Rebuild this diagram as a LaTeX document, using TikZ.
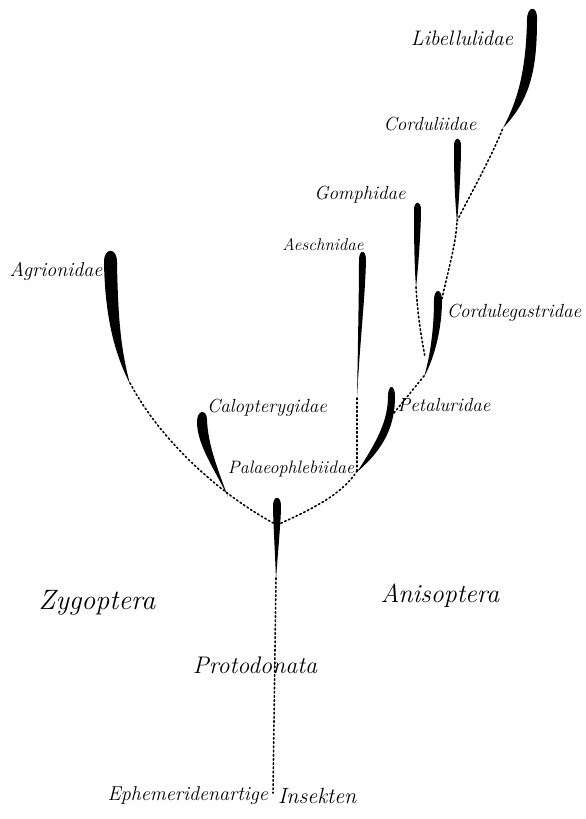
\documentclass[tikz,border=0pt]{standalone}
\begin{document}
\begin{tikzpicture}[x=1pt,y=-1pt,
  ink/.style={fill=black},
  dots/.style={draw=black,line width=1.6pt,line cap=round,dash pattern=on 1.6pt off 2.6pt},
  lab/.style={font=\itshape\fontsize{19}{19}\selectfont,inner sep=0pt},
  biglab/.style={font=\itshape\fontsize{26}{26}\selectfont,inner sep=0pt}]
\fill[white] (0,0) rectangle (586,819);
\useasboundingbox (0,0) rectangle (586,819);

% spindles (taxa)
\fill[ink] (130,384) .. controls (118,360) and (105,325) .. (104,262) .. controls (104,247) and (117,247) .. (117,262) .. controls (118,320) and (121,350) .. (130,384) -- cycle; % Agrionidae
\fill[ink] (503,128) .. controls (518,100) and (526,70) .. (527,20) .. controls (527,5) and (538,5) .. (537,20) .. controls (537,70) and (530,100) .. (503,128) -- cycle; % Libellulidae
\fill[ink] (457,222) .. controls (454,190) and (454,160) .. (454,146) .. controls (454,136) and (461,136) .. (461,146) .. controls (461,160) and (460,190) .. (457,222) -- cycle; % Corduliidae
\fill[ink] (416,288) .. controls (414,260) and (414,225) .. (414,210) .. controls (414,200) and (421,200) .. (421,210) .. controls (421,225) and (419,260) .. (416,288) -- cycle; % Gomphidae
\fill[ink] (357,398) .. controls (358,340) and (359,290) .. (359,260) .. controls (359,249) and (366,249) .. (366,260) .. controls (365,300) and (360,340) .. (357,398) -- cycle; % Aeschnidae
\fill[ink] (424,377) .. controls (432,350) and (434,320) .. (434,300) .. controls (434,288) and (442,288) .. (442,300) .. controls (442,325) and (436,355) .. (424,377) -- cycle; % Cordulegastridae
\fill[ink] (357,472) .. controls (378,440) and (388,420) .. (388,396) .. controls (388,384) and (395,384) .. (395,396) .. controls (395,425) and (385,448) .. (357,472) -- cycle; % Petaluridae
\fill[ink] (228,497) .. controls (215,470) and (197,445) .. (197,422) .. controls (197,409) and (207,409) .. (207,420) .. controls (208,445) and (218,470) .. (228,497) -- cycle; % Calopterygidae
\fill[ink] (276,580) .. controls (275,550) and (273,520) .. (273,506) .. controls (273,495) and (281,495) .. (281,506) .. controls (281,520) and (278,550) .. (276,580) -- cycle; % root

% named points
\coordinate (root) at (277,525);
\coordinate (agb) at (130,383);
\coordinate (aeb) at (357,397);
\coordinate (pj) at (357,471);
\coordinate (pt) at (394,413);
\coordinate (cgb) at (424,376);
\coordinate (cgt) at (441,303);
\coordinate (gob) at (416,287);
\coordinate (gj) at (425,357);
\coordinate (cob) at (457,221);
\coordinate (lib) at (503,128);
\coordinate (rb) at (276,578);
\coordinate (base) at (273,793);

% dotted connectors
\draw[dots] (agb) .. controls (160,440) and (220,495) .. (root);
\draw[dots] (root) .. controls (310,510) and (342,495) .. (pj);
\draw[dots] (pj) -- (aeb);
\draw[dots] (pt) -- (cgb);
\draw[dots] (gob) .. controls (418,320) and (422,340) .. (gj);
\draw[dots] (cgt) .. controls (448,270) and (456,245) .. (cob);
\draw[dots] (cob) .. controls (470,195) and (490,160) .. (lib);
\draw[dots] (rb) -- (base);

% labels
\node[lab,font=\itshape\fontsize{21}{21}\selectfont] (tLib) at (462,38) {Libellulidae};
\node[lab] (tCor) at (430,124) {Corduliidae};
\node[lab] (tGom) at (360,195) {Gomphidae};
\node[lab,font=\itshape\fontsize{17}{17}\selectfont] (tAes) at (323,245) {Aeschnidae};
\node[lab,font=\itshape\fontsize{20}{20}\selectfont] (tAgr) at (56,271) {Agrionidae};
\node[lab] (tCgs) at (514,313) {Cordulegastridae};
\node[lab] (tPet) at (444,405) {Petaluridae};
\node[lab] (tCal) at (267,408) {Calopterygidae};
\node[lab,font=\itshape\fontsize{18}{18}\selectfont] (tPal) at (291,469) {Palaeophlebiidae};
\node[biglab,font=\itshape\fontsize{28}{28}\selectfont] (tZyg) at (97,603) {Zygoptera};
\node[biglab] (tAni) at (440,596) {Anisoptera};
\node[biglab,font=\itshape\fontsize{24}{24}\selectfont] (tPro) at (255,665) {Protodonata};
\node[lab,font=\itshape\fontsize{20}{20}\selectfont,anchor=east] (tEph) at (268,796) {Ephemeridenartige};
\node[lab,font=\itshape\fontsize{22}{22}\selectfont,anchor=west] (tIns) at (278,796) {Insekten};
\end{tikzpicture}
\end{document}
